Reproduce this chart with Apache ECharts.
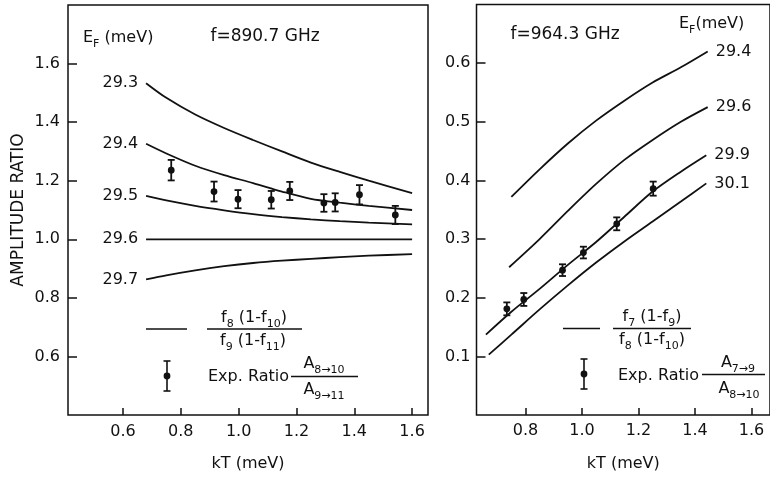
<!DOCTYPE html>
<html>
<head>
<meta charset="utf-8">
<script src="https://cdn.jsdelivr.net/npm/echarts@6/dist/echarts.min.js"></script>
<style>html,body{margin:0;padding:0;background:#fff;}#c{width:770px;height:477px;}</style>
</head>
<body>
<div id="c"></div>
<script>
// ---------- data ----------
// Left panel: f = 890.7 GHz
const leftKT = [0.68, 0.75, 0.85, 0.95, 1.05, 1.15, 1.25, 1.35, 1.45, 1.60];
const left293 = [1.533, 1.483, 1.426, 1.380, 1.339, 1.300, 1.262, 1.230, 1.200, 1.158];
const left294 = [1.326, 1.293, 1.251, 1.219, 1.192, 1.163, 1.138, 1.125, 1.114, 1.100];
const left295 = [1.148, 1.133, 1.114, 1.099, 1.086, 1.076, 1.068, 1.062, 1.057, 1.051];
const left296 = [1.000, 1.000, 1.000, 1.000, 1.000, 1.000, 1.000, 1.000, 1.000, 1.000];
const left297 = [0.863, 0.877, 0.894, 0.908, 0.919, 0.927, 0.933, 0.939, 0.944, 0.949];
const leftCurveNames = ['29.3', '29.4', '29.5', '29.6', '29.7'];

const leftExpKT = [0.767, 0.915, 0.998, 1.113, 1.177, 1.295, 1.334, 1.418, 1.542];
const leftExpRatio = [1.236, 1.163, 1.137, 1.135, 1.165, 1.124, 1.126, 1.152, 1.083];
const leftExpErr = [0.035, 0.034, 0.031, 0.030, 0.031, 0.030, 0.031, 0.033, 0.031];

// Right panel: f = 964.3 GHz
const rightKT294 = [0.75, 0.85, 0.95, 1.05, 1.15, 1.25, 1.35, 1.445];
const right294 = [0.372, 0.419, 0.463, 0.502, 0.536, 0.567, 0.593, 0.620];
const rightKT296 = [0.742, 0.85, 0.95, 1.05, 1.15, 1.25, 1.35, 1.445];
const right296 = [0.252, 0.300, 0.348, 0.394, 0.435, 0.469, 0.500, 0.525];
const rightKT299 = [0.66, 0.75, 0.85, 0.95, 1.05, 1.15, 1.25, 1.35, 1.44];
const right299 = [0.137, 0.176, 0.215, 0.256, 0.295, 0.338, 0.381, 0.415, 0.443];
const rightKT301 = [0.67, 0.75, 0.85, 0.95, 1.05, 1.15, 1.25, 1.35, 1.44];
const right301 = [0.103, 0.137, 0.180, 0.221, 0.260, 0.296, 0.330, 0.364, 0.395];
const rightCurveNames = ['29.4', '29.6', '29.9', '30.1'];

const rightExpKT = [0.734, 0.794, 0.931, 1.005, 1.123, 1.252];
const rightExpRatio = [0.181, 0.197, 0.247, 0.277, 0.326, 0.386];
const rightExpErr = [0.011, 0.011, 0.010, 0.010, 0.011, 0.012];

// tick labels
const leftXTicks = [0.6, 0.8, 1.0, 1.2, 1.4, 1.6];
const leftYTicks = [0.6, 0.8, 1.0, 1.2, 1.4, 1.6];
const rightXTicks = [0.8, 1.0, 1.2, 1.4, 1.6];
const rightYTicks = [0.1, 0.2, 0.3, 0.4, 0.5, 0.6];

// ---------- styling ----------
const FONT = 'DejaVu Sans';
const INK = '#111';
const LW = 1.8;

function zip(xs, ys) { return xs.map((x, i) => [x, ys[i]]); }

function leftCurve(name, ys) {
  const pts = zip(leftKT, ys).map((p, i) => i === 0 ? {
    value: p,
    label: { show: true, position: 'left', distance: 8, formatter: name,
      fontFamily: FONT, fontSize: 16, color: INK }
  } : { value: p });
  return {
    type: 'line', name: name, xAxisIndex: 0, yAxisIndex: 0,
    data: pts, smooth: 0.3, symbol: 'circle', symbolSize: 0, showSymbol: true,
    lineStyle: { color: INK, width: LW }, itemStyle: { color: INK },
    silent: true, z: 3
  };
}

function rightCurve(name, xs, ys) {
  return {
    type: 'line', name: name, xAxisIndex: 1, yAxisIndex: 1,
    data: zip(xs, ys), smooth: 0.3, showSymbol: false,
    lineStyle: { color: INK, width: LW },
    endLabel: { show: true, formatter: name, distance: 8,
      fontFamily: FONT, fontSize: 16, color: INK },
    silent: true, z: 3
  };
}

function errSeries(xi, yi, xs, ys, es, cap) {
  return {
    type: 'custom', xAxisIndex: xi, yAxisIndex: yi, silent: true, z: 5,
    data: xs.map((x, i) => [x, ys[i], es[i]]),
    renderItem: function (params, api) {
      const x = api.value(0), y = api.value(1), e = api.value(2);
      const c = api.coord([x, y]);
      const t = api.coord([x, y + e]);
      const b = api.coord([x, y - e]);
      const st = { stroke: INK, lineWidth: 1.8 };
      return { type: 'group', children: [
        { type: 'line', shape: { x1: c[0], y1: t[1], x2: c[0], y2: b[1] }, style: st },
        { type: 'line', shape: { x1: c[0] - cap, y1: t[1], x2: c[0] + cap, y2: t[1] }, style: st },
        { type: 'line', shape: { x1: c[0] - cap, y1: b[1], x2: c[0] + cap, y2: b[1] }, style: st },
        { type: 'circle', shape: { cx: c[0], cy: c[1], r: 3.4 }, style: { fill: INK } }
      ]};
    }
  };
}

const tickFmt = v => Number(v).toFixed(1);
const labelStyle = { fontFamily: FONT, fontSize: 16, color: INK };

function xAxisCfg(gi, min, max, ticks, margin, nameGap) {
  return {
    type: 'value', gridIndex: gi, min: min, max: max,
    axisLine: { show: false },
    axisTick: { show: true, inside: true, length: 7, customValues: ticks,
      lineStyle: { color: INK, width: 1.5 } },
    axisLabel: Object.assign({ customValues: ticks, formatter: tickFmt, margin: margin }, labelStyle),
    splitLine: { show: false },
    name: 'kT (meV)', nameLocation: 'middle', nameGap: nameGap,
    nameTextStyle: { fontFamily: FONT, fontSize: 16, color: INK }
  };
}
function yAxisCfg(gi, min, max, ticks, margin, name) {
  const a = {
    type: 'value', gridIndex: gi, min: min, max: max,
    axisLine: { show: false },
    axisTick: { show: true, inside: true, length: 9, customValues: ticks,
      lineStyle: { color: INK, width: 1.5 } },
    axisLabel: Object.assign({ customValues: ticks, formatter: tickFmt, margin: margin }, labelStyle),
    splitLine: { show: false }
  };
  if (name) {
    a.name = name; a.nameLocation = 'middle'; a.nameGap = 41;
    a.nameTextStyle = { fontFamily: FONT, fontSize: 17, color: INK };
  }
  return a;
}

// rich text helpers for sub-scripted legend text
const rich = {
  m: { fontFamily: FONT, fontSize: 16, lineHeight: 24, color: INK },
  t: { fontFamily: FONT, fontSize: 17, lineHeight: 24, color: INK },
  s: { fontFamily: FONT, fontSize: 11, lineHeight: 11, verticalAlign: 'bottom', color: INK }
};
function rtext(x, y, text, align) {
  return { type: 'text', x: x, y: y, silent: true,
    style: { text: text, rich: rich, align: align || 'left', verticalAlign: 'middle',
      fontFamily: FONT, fontSize: 16, fill: INK } };
}
function pline(x1, y1, x2, y2) {
  return { type: 'line', silent: true, shape: { x1: x1, y1: y1, x2: x2, y2: y2 },
    style: { stroke: INK, lineWidth: 1.6 } };
}
function errGlyph(x, yc, half) {
  return [
    pline(x, yc - half, x, yc + half),
    pline(x - 3.5, yc - half, x + 3.5, yc - half),
    pline(x - 3.5, yc + half, x + 3.5, yc + half),
    { type: 'circle', silent: true, shape: { cx: x, cy: yc, r: 3.4 }, style: { fill: INK } }
  ];
}

const graphics = [
  // left panel header
  rtext(83, 38, '{m|E}{s|F}{m| (meV)}'),
  rtext(265, 37, '{t|f=890.7 GHz}', 'center'),
  // left legend
  pline(146, 329, 187, 329),
  rtext(254, 318, '{m|f}{s|8}{m| (1-f}{s|10}{m|)}', 'center'),
  pline(207, 329, 302, 329),
  rtext(253, 341, '{m|f}{s|9}{m| (1-f}{s|11}{m|)}', 'center'),
  ...errGlyph(167, 376, 15),
  rtext(208, 377, '{m|Exp. Ratio}'),
  rtext(324, 364, '{m|A}{s|8\u219210}', 'center'),
  pline(291, 376.5, 358, 376.5),
  rtext(324, 390, '{m|A}{s|9\u219211}', 'center'),
  // right panel header
  rtext(565, 35, '{t|f=964.3 GHz}', 'center'),
  rtext(679, 24, '{m|E}{s|F}{m|(meV)}'),
  // right legend
  pline(563, 328.5, 600, 328.5),
  rtext(652, 317, '{m|f}{s|7}{m| (1-f}{s|9}{m|)}', 'center'),
  pline(613, 328.5, 691, 328.5),
  rtext(652, 340, '{m|f}{s|8}{m| (1-f}{s|10}{m|)}', 'center'),
  ...errGlyph(584, 374, 15),
  rtext(618, 376, '{m|Exp. Ratio}'),
  rtext(738, 363, '{m|A}{s|7\u21929}', 'center'),
  pline(702, 374.5, 765, 374.5),
  rtext(739, 389, '{m|A}{s|8\u219210}', 'center')
];

const option = {
  animation: false,
  backgroundColor: '#fff',
  grid: [
    { left: 68, right: 342, top: 5, bottom: 61.3, show: true,
      borderColor: INK, borderWidth: 1.5, backgroundColor: 'transparent' },
    { left: 476.5, right: -3, top: 4.5, bottom: 61.3, show: true,
      borderColor: INK, borderWidth: 1.5, backgroundColor: 'transparent' }
  ],
  xAxis: [
    xAxisCfg(0, 0.41, 1.655, leftXTicks, 9, 41),
    xAxisCfg(1, 0.6266, 1.6655, rightXTicks, 8, 41)
  ],
  yAxis: [
    yAxisCfg(0, 0.4, 1.8, leftYTicks, 8, 'AMPLITUDE RATIO'),
    yAxisCfg(1, 0, 0.7, rightYTicks, 6, null)
  ],
  series: [
    leftCurve(leftCurveNames[0], left293),
    leftCurve(leftCurveNames[1], left294),
    leftCurve(leftCurveNames[2], left295),
    leftCurve(leftCurveNames[3], left296),
    leftCurve(leftCurveNames[4], left297),
    errSeries(0, 0, leftExpKT, leftExpRatio, leftExpErr, 3.5),
    rightCurve(rightCurveNames[0], rightKT294, right294),
    rightCurve(rightCurveNames[1], rightKT296, right296),
    rightCurve(rightCurveNames[2], rightKT299, right299),
    rightCurve(rightCurveNames[3], rightKT301, right301),
    errSeries(1, 1, rightExpKT, rightExpRatio, rightExpErr, 3.5)
  ],
  graphic: graphics
};

const chart = echarts.init(document.getElementById('c'), null, { renderer: 'canvas' });
chart.setOption(option);
</script>
</body>
</html>
